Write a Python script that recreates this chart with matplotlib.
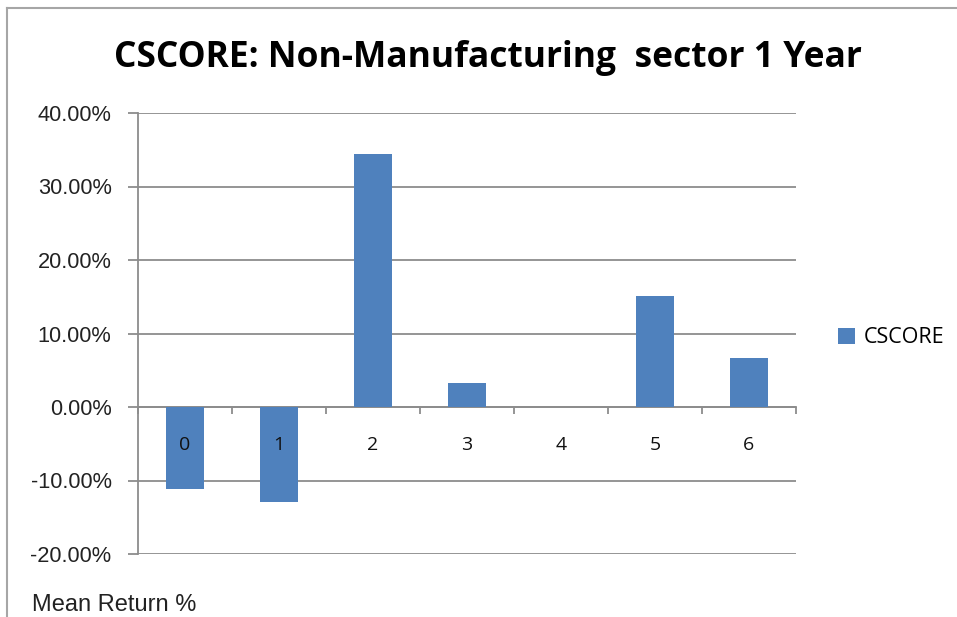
import numpy as np
import matplotlib.pyplot as plt
from matplotlib.ticker import FuncFormatter, FixedLocator
from matplotlib.lines import Line2D

# mean return per CSCORE bucket
groups = ['0', '1', '2', '3', '4', '5', '6']
mean_return = [-0.112, -0.129, 0.344, 0.032, 0.0, 0.151, 0.067]
y_ticks = [-0.2, -0.1, 0.0, 0.1, 0.2, 0.3, 0.4]

bar_color = '#4F81BD'
grid_color = '#8C8C8C'

fig = plt.figure(figsize=(9.57, 6.17), dpi=100)
W, H = 957.0, 617.0

# outer chart frame
fig.add_artist(Line2D([7 / W, 7 / W], [0, 1 - 8 / H], color='#A6A6A6', lw=1.5))
fig.add_artist(Line2D([7 / W, 1], [1 - 8 / H, 1 - 8 / H], color='#A6A6A6', lw=1.5))

ax = fig.add_axes([138 / W, 1 - 554 / H, (796 - 138) / W, (554 - 113) / H])

x = np.arange(len(groups))
ax.bar(x, mean_return, width=0.4, color=bar_color, zorder=3, label='CSCORE')

ax.set_xlim(-0.5, len(groups) - 0.5)
ax.set_ylim(-0.2, 0.4)
ax.set_yticks(y_ticks)
ax.yaxis.set_major_formatter(FuncFormatter(lambda v, p: '%.2f%%' % (v * 100)))
ax.grid(axis='y', color=grid_color, lw=1.3)
ax.yaxis.set_zorder(0.5)
ax.xaxis.set_zorder(4)   # category labels sit on top of the bars

for s in ['top', 'right']:
    ax.spines[s].set_visible(False)
ax.spines['left'].set_color(grid_color)
ax.spines['left'].set_linewidth(1.3)
ax.spines['bottom'].set_position(('data', 0))
ax.spines['bottom'].set_color(grid_color)
ax.spines['bottom'].set_linewidth(1.3)

# category labels in the middle, tick marks on the boundaries
ax.set_xticks(x)
ax.set_xticklabels(groups, fontsize=14, family='Open Sans', color='#111111')
ax.tick_params(axis='x', which='major', length=0, pad=21)
ax.xaxis.set_minor_locator(FixedLocator(np.arange(len(groups) + 1) - 0.5))
ax.tick_params(axis='x', which='minor', length=5, width=1.3, color=grid_color, direction='out')

ax.tick_params(axis='y', length=7, width=1.3, color=grid_color, pad=12,
               labelsize=15.7, labelcolor='#222222')
for t in ax.get_yticklabels():
    t.set_family('Liberation Sans')

fig.text(488 / W, 1 - 58 / H, 'CSCORE: Non-Manufacturing  sector 1 Year',
         ha='center', va='center', fontsize=25.5, fontweight='bold', family='Open Sans')
fig.text(32 / W, 1 - 605 / H, 'Mean Return %', ha='left', va='center',
         fontsize=17, family='Liberation Sans', color='#222222')

ax.legend(loc='center left', bbox_to_anchor=(1.035, 0.49), frameon=False,
          handlelength=0.75, handleheight=0.75, handletextpad=0.45,
          prop={'family': 'Open Sans', 'size': 15.5})

fig.savefig('out.png', dpi=100)
